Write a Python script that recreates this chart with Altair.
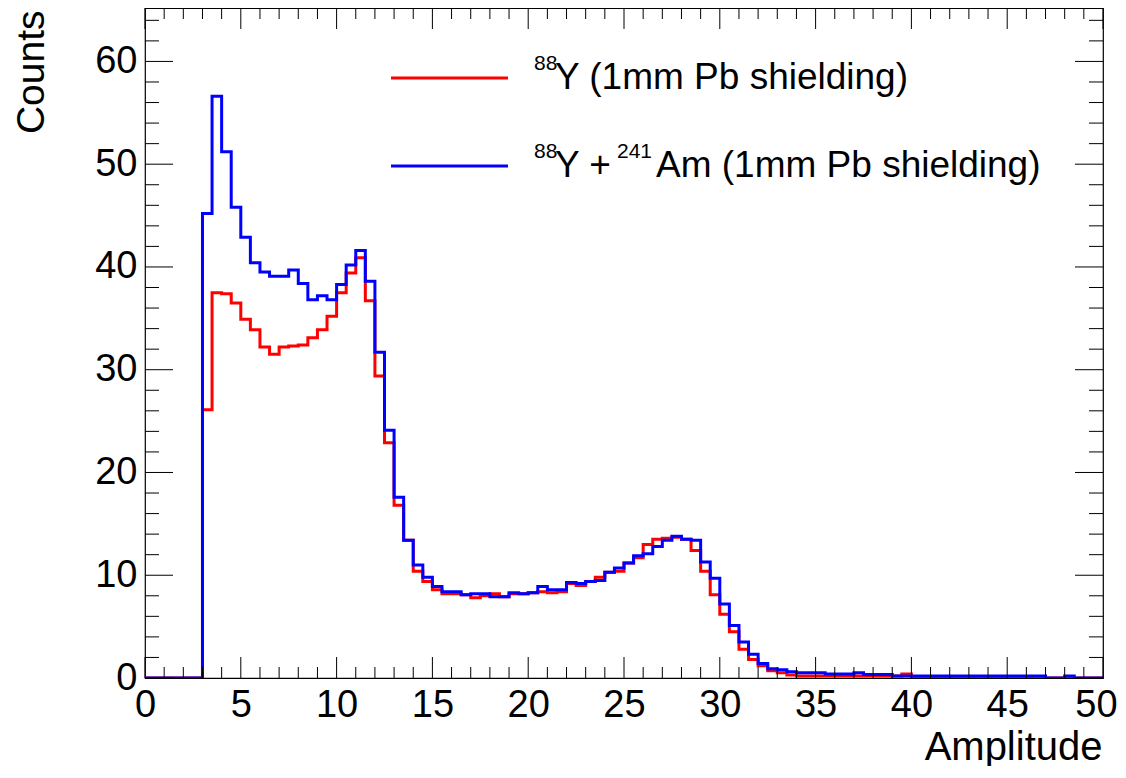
import altair as alt
import pandas as pd

# ---------------- data ----------------
bin_width = 0.5
x_min, x_max = 0.0, 50.0
y_min, y_max = 0.0, 65.2

# 88Y (1mm Pb shielding) - red, 100 bins of width 0.5 from 0 to 50
counts_y88 = [
    0, 0, 0, 0, 0, 0,
    26.1, 37.5, 37.4, 36.5, 34.9, 33.9, 32.2, 31.5, 32.2, 32.3,
    32.4, 33.1, 33.9, 35.2, 37.5, 39.4, 40.9, 36.7, 29.4, 22.9,
    16.8, 13.4, 10.4, 9.4, 8.6, 8.2, 8.2, 8.1, 7.8, 8.0,
    8.2, 7.9, 8.2, 8.2, 8.3, 8.4, 8.3, 8.4, 9.2, 9.0,
    9.4, 9.8, 10.3, 10.4, 11.2, 11.7, 13.0, 13.5, 13.6, 13.7,
    13.5, 12.4, 10.4, 8.1, 6.2, 4.5, 2.8, 1.8, 1.2, 0.7,
    0.5, 0.3,
    0.2, 0.2, 0.2, 0.2, 0.2, 0.2, 0.2, 0.2, 0.2, 0.2, 0.2,
    0.4,
    0.1, 0.1, 0.1, 0.1, 0.1, 0.1, 0.1, 0.1, 0.1, 0.1, 0.1, 0.1, 0.1, 0.1,
    0, 0, 0, 0, 0, 0,
]

# 88Y + 241Am (1mm Pb shielding) - blue
counts_y88_am241 = [
    0, 0, 0, 0, 0, 0,
    45.2, 56.6, 51.2, 45.8, 42.9, 40.4, 39.5, 39.1, 39.1, 39.7,
    38.4, 36.8, 37.2, 36.8, 38.3, 40.2, 41.6, 38.6, 31.7, 24.1,
    17.6, 13.4, 11.0, 9.8, 8.9, 8.4, 8.4, 8.1, 8.2, 8.2,
    7.9, 7.9, 8.3, 8.2, 8.3, 8.9, 8.6, 8.6, 9.3, 9.2,
    9.4, 9.5, 10.3, 10.7, 11.2, 11.9, 12.1, 12.8, 13.4, 13.8,
    13.5, 13.4, 11.3, 9.7, 7.2, 5.1, 3.5, 2.3, 1.4, 0.9,
    0.8, 0.6, 0.5, 0.5, 0.5, 0.4, 0.4, 0.4, 0.5, 0.35,
    0.35, 0.35, 0.2, 0.2,
    0.2, 0.2, 0.2, 0.2, 0.2, 0.2, 0.2, 0.2, 0.2, 0.2, 0.2, 0.2, 0.2, 0.2,
    0, 0, 0.2, 0, 0, 0,
]

# legend texts, split into normal and superscript pieces
legend_red_pieces = [("88", True), ("Y (1mm Pb shielding)", False)]
legend_blue_pieces = [("88", True), ("Y + ", False), ("241", True),
                      ("Am (1mm Pb shielding)", False)]
series_colors = ["#ff0000", "#0000ff"]

x_major_ticks = [0, 5, 10, 15, 20, 25, 30, 35, 40, 45, 50]
x_minor_ticks = [1, 2, 3, 4, 6, 7, 8, 9, 11, 12, 13, 14, 16, 17, 18, 19,
                 21, 22, 23, 24, 26, 27, 28, 29, 31, 32, 33, 34, 36, 37, 38, 39,
                 41, 42, 43, 44, 46, 47, 48, 49]
y_major_ticks = [0, 10, 20, 30, 40, 50, 60]
y_minor_ticks = [2, 4, 6, 8, 12, 14, 16, 18, 22, 24, 26, 28, 32, 34, 36, 38,
                 42, 44, 46, 48, 52, 54, 56, 58, 62, 64]

x_title = "Amplitude"
y_title = "Counts"

# ---------------- layout / style ----------------
W, H = 958, 670
FONT = "Liberation Sans"

xs = alt.Scale(domain=[x_min, x_max], nice=False, zero=False)
ys = alt.Scale(domain=[y_min, y_max], nice=False, zero=False)


def step_frame(vals):
    edges = [x_min + i * bin_width for i in range(len(vals))] + [x_max]
    return pd.DataFrame({"x": edges, "y": list(vals) + [vals[-1]]})


x_axis = alt.Axis(
    values=x_major_ticks, format="d", ticks=False, domain=False, grid=False,
    labelFont=FONT, labelFontSize=38, labelPadding=8, labelColor="black",
    labelFlush=False, labelOverlap=False,
    labelOffset={"condition": {"test": "datum.value == 50", "value": -7}, "value": 0},
    title=x_title, titleFont=FONT, titleFontSize=40, titleFontWeight="normal",
    titleColor="black", titleAlign="right", titleAnchor="end",
    titleBaseline="alphabetic", titleX=957, titleY=81,
)
y_axis = alt.Axis(
    values=y_major_ticks, format="d", ticks=False, domain=False, grid=False,
    labelFont=FONT, labelFontSize=38, labelPadding=8, labelColor="black",
    labelFlush=False, labelOverlap=False,
    title=y_title, titleFont=FONT, titleFontSize=39, titleFontWeight="normal",
    titleColor="black", titleAngle=-90, titleAlign="right", titleAnchor="end",
    titleBaseline="alphabetic", titleX=-102, titleY=2,
)

layers = []

for vals, color in zip([counts_y88, counts_y88_am241], series_colors):
    layers.append(
        alt.Chart(step_frame(vals)).mark_line(
            interpolate="step-after", color=color, strokeWidth=3, clip=True,
            strokeJoin="miter", strokeCap="butt",
        ).encode(
            x=alt.X("x:Q", scale=xs, axis=x_axis),
            y=alt.Y("y:Q", scale=ys, axis=y_axis),
        )
    )

# inward tick marks on all four sides (ROOT style)
def xticks(vals, length, top):
    y0 = 0 if top else H
    y1 = length if top else H - length
    return alt.Chart(pd.DataFrame({"x": vals})).mark_rule(color="black", strokeWidth=1).encode(
        x=alt.X("x:Q", scale=xs, axis=x_axis), y=alt.value(y0), y2=alt.value(y1)
    )


def yticks(vals, length, right):
    x0 = W if right else 0
    x1 = W - length if right else length
    return alt.Chart(pd.DataFrame({"y": vals})).mark_rule(color="black", strokeWidth=1).encode(
        y=alt.Y("y:Q", scale=ys, axis=y_axis), x=alt.value(x0), x2=alt.value(x1)
    )


layers += [
    xticks(x_major_ticks, 21, False), xticks(x_minor_ticks, 11, False),
    xticks(x_major_ticks, 21, True), xticks(x_minor_ticks, 11, True),
    yticks(y_major_ticks, 28, False), yticks(y_minor_ticks, 14, False),
    yticks(y_major_ticks, 28, True), yticks(y_minor_ticks, 14, True),
]

# legend (no border, like the ROOT TLegend)
legend_line_y = [70, 158]
legend_piece_x = [[389, 410], [389, 410, 472, 511]]
for pieces, color, ly, pxs in zip([legend_red_pieces, legend_blue_pieces],
                                  series_colors, legend_line_y, legend_piece_x):
    layers.append(
        alt.Chart(pd.DataFrame({"k": [0]})).mark_rule(color=color, strokeWidth=3).encode(
            x=alt.value(246), x2=alt.value(363), y=alt.value(ly)
        )
    )
    for (txt, sup), px in zip(pieces, pxs):
        layers.append(
            alt.Chart(pd.DataFrame({"label": [txt]})).mark_text(
                align="left", baseline="alphabetic", font=FONT,
                fontSize=21 if sup else 37, color="black",
            ).encode(
                x=alt.value(px),
                y=alt.value(ly - 8 if sup else ly + 11),
                text="label:N",
            )
        )

chart = alt.layer(*layers).properties(
    width=W, height=H,
    autosize=alt.AutoSizeParams(type="none"),
    padding={"left": 137, "top": 0, "right": 15, "bottom": 88},
    background="white",
).configure_view(stroke="black", strokeWidth=1.2)

chart.save("out.html", embed_options={"renderer": "svg", "actions": False})
